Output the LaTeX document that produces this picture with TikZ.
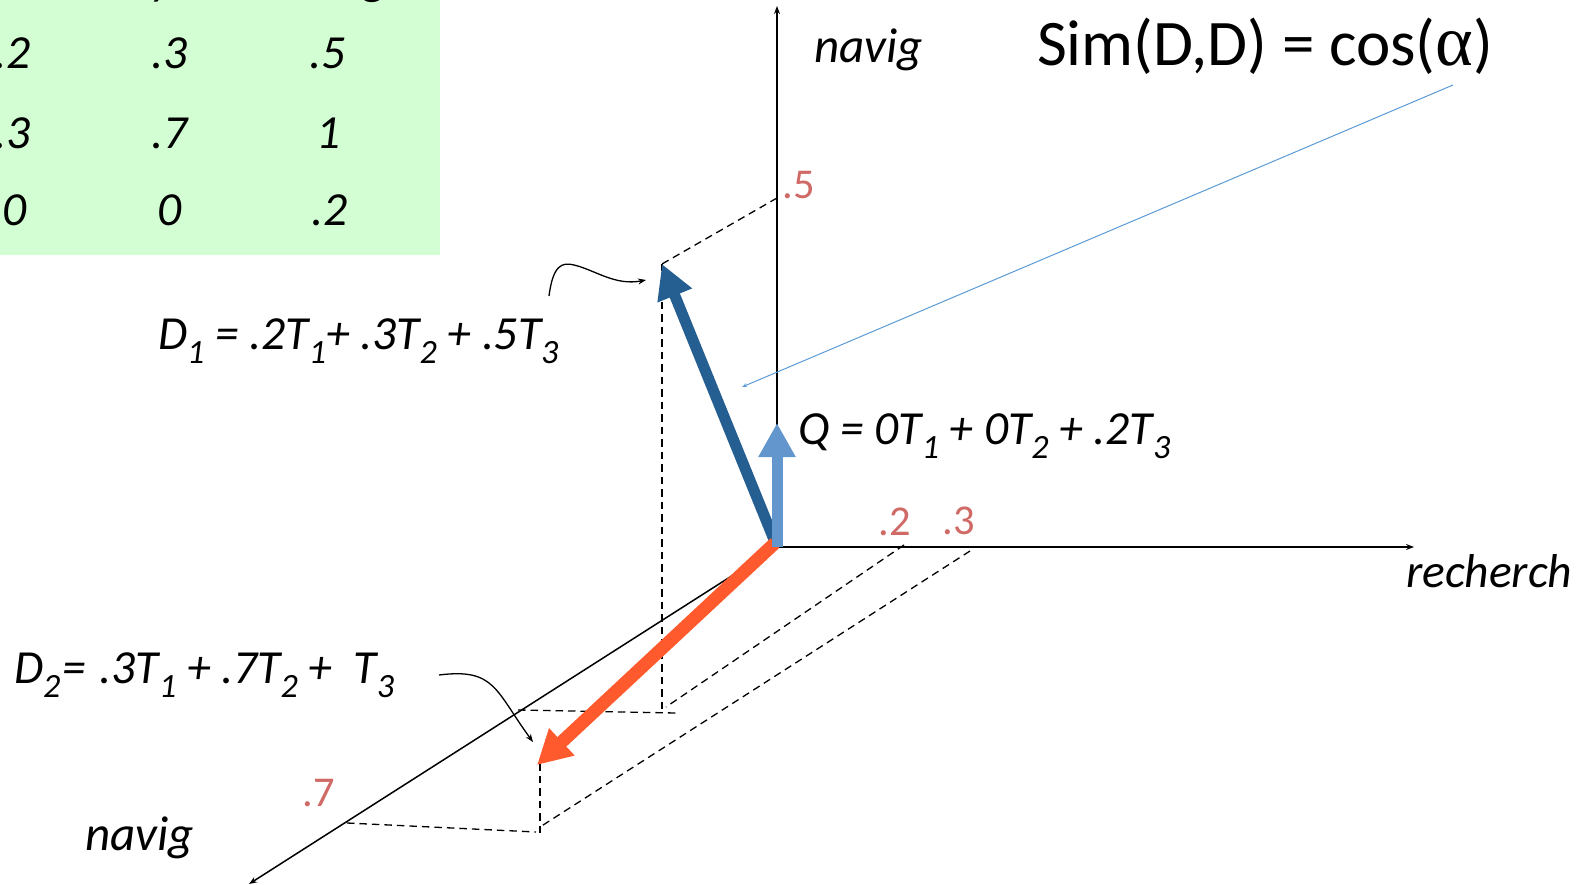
\documentclass[tikz,border=0pt]{standalone}
\usepackage{fontspec}
\setmainfont{Carlito}
\newfontfamily\alphafont{Liberation Serif}
\usetikzlibrary{arrows.meta}
\definecolor{tablegreen}{HTML}{D3FDD3}
\definecolor{labelred}{HTML}{CF6A66}
\definecolor{docblue}{HTML}{255E91}
\definecolor{queryblue}{HTML}{6396CC}
\definecolor{docorange}{HTML}{FF5A2D}
\definecolor{thinblue}{HTML}{5B9BD5}
\newcommand{\sbs}[1]{\raisebox{-0.3em}{\fontsize{34}{34}\selectfont #1}}
\tikzset{
  x=1pt,y=-1pt,
  every node/.style={inner sep=0pt,outer sep=0pt},
  txt/.style={font=\fontsize{47.5}{47.5}\selectfont\itshape,anchor=base west},
  word/.style={font=\fontsize{49}{49}\selectfont\itshape,anchor=base west},
  cell/.style={font=\fontsize{47.5}{47.5}\selectfont\itshape,anchor=base},
  tick/.style={font=\fontsize{42.5}{42.5}\selectfont,text=labelred,anchor=center},
  axis/.style={draw=black,line width=1.5pt,-{Stealth[length=8pt,width=6pt]}},
  guide/.style={draw=black,line width=1.3pt,dash pattern=on 7.5pt off 5pt},
  callout/.style={draw=black,line width=1.3pt,-{Stealth[length=8pt,width=6pt]}},
  vec/.style={line width=#1,-{Triangle[length=34pt,width=35pt]}},
}
\begin{document}
\begin{tikzpicture}
\useasboundingbox (0,0) rectangle (1592,885);
\fill[tablegreen] (0,0) rectangle (440,255);
\node[cell] (c0) at (162,-5) {y};
\node[cell] (c00) at (376,-5) {g};
\node[cell] (c11) at (13,69) {.2};
\node[cell] (c12) at (170,69) {.3};
\node[cell] (c13) at (328,69) {.5};
\node[cell] (c21) at (13,149) {.3};
\node[cell] (c22) at (170,149) {.7};
\node[cell] (c23) at (329,149) {1};
\node[cell] (c31) at (15,226) {0};
\node[cell] (c32) at (170,226) {0};
\node[cell] (c33) at (330,226) {.2};

\coordinate (O) at (777,547);
\coordinate (top) at (777,6);
\coordinate (right) at (1414,547);
\coordinate (low) at (249,884);
\coordinate (d1tip) at (662,264);
\coordinate (d2start) at (775,543);
\coordinate (d2tip) at (537,765);
\coordinate (qtip) at (777,423);
\coordinate (t5) at (777,198);
\coordinate (t2) at (904,545);
\coordinate (t3) at (970,551);
\coordinate (p1) at (666,707);
\coordinate (p2) at (540,827);
\coordinate (v1) at (662,712);
\coordinate (v2t) at (540,763);
\coordinate (v2b) at (540,833);
\coordinate (n1) at (518,710);
\coordinate (n1e) at (676,713);
\coordinate (n2) at (347,823);
\coordinate (n2e) at (536,832);
\coordinate (s1) at (1453,85);
\coordinate (s2) at (742,387);

\draw[axis] (O) -- (top);
\draw[axis] (O) -- (right);
\draw[axis] (O) -- (low);

\draw[guide] (t5) -- (d1tip);
\draw[guide] (d1tip) -- (v1);
\draw[guide] (t2) -- (p1);
\draw[guide] (t3) -- (p2);
\draw[guide] (n1) -- (n1e);
\draw[guide] (v2t) -- (v2b);
\draw[guide] (n2) -- (n2e);

\draw[thinblue,line width=1pt,-{Stealth[length=5pt,width=4pt]}] (s1) -- (s2);

\draw[vec=11pt,docblue] (O) -- (d1tip);
\draw[vec=13pt,docorange] (d2start) -- (d2tip);
\draw[vec=11pt,queryblue] (O) -- (qtip);

\draw[callout] (549,296) .. controls (553,265) and (562,262) .. (574,265) .. controls (595,270) and (615,286) .. (646,280);
\draw[callout] (439,675) .. controls (495,668) and (495,690) .. (533,742);

\node[txt] (d1) at (158,349) {D\sbs{1} = .2T\sbs{1}+ .3T\sbs{2} + .5T\sbs{3}};
\node[txt] (d2) at (14,683) {D\sbs{2}\kern2pt= \kern3pt.3T\sbs{1} + .7T\sbs{2} +\ \ T\sbs{3}};
\node[txt] (q) at (798,444) {Q = 0T\sbs{1} + 0T\sbs{2} + .2T\sbs{3}};
\node[word] (nl) at (85,850) {navig};
\node[word] (nu) at (814,63) {navig};
\node[txt] (re) at (1406,587) {recherch};
\node[font=\fontsize{65}{65}\selectfont,anchor=base west] (sim) at (1037,66) {Sim(D,D) = cos({\alphafont\fontsize{72}{72}\selectfont α})};
\node[tick] (l5) at (799,185) {.5};
\node[tick] (l2) at (894.5,522) {.2};
\node[tick] (l3) at (959,521) {.3};
\node[tick] (l7) at (319,793) {.7};
\end{tikzpicture}
\end{document}
